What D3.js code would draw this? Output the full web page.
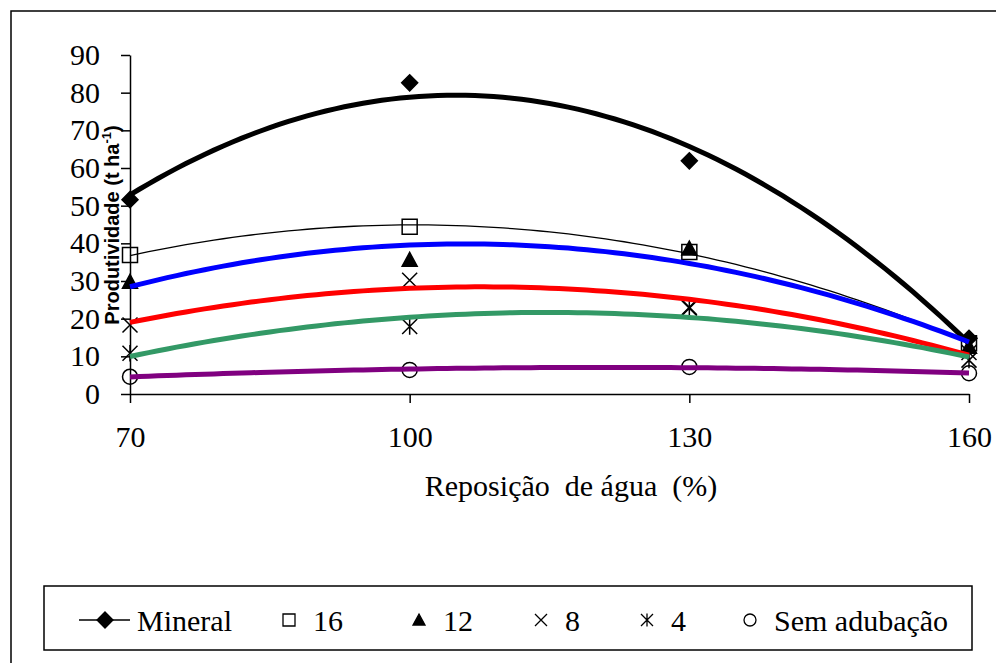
<!DOCTYPE html>
<html>
<head>
<meta charset="utf-8">
<script src="https://cdn.jsdelivr.net/npm/d3@7"></script>
</head>
<body style="margin:0">
<script>
// Data
const waterLevels = [70, 100, 130, 160];          // Reposição de água (%)
const seriesNames = ['Mineral', '16', '12', '8', '4', 'Sem adubação'];
const mineral     = [51.6, 82.6, 61.9, 14.8];
const dose16      = [36.9, 44.4, 37.7, 13.5];
const dose12      = [29.8, 35.6, 38.6, 12.5];
const dose8       = [18.3, 30.2, 23.0, 11.0];
const dose4       = [10.8, 17.9, 22.8, 9.0];
const semAdubacao = [4.6, 6.4, 7.2, 5.5];
const xTicks = [70, 100, 130, 160];
const yTicks = [0, 10, 20, 30, 40, 50, 60, 70, 80, 90];

// Styles
const lineColors = ['#000000', '#000000', '#0000ff', '#ff0000', '#339966', '#800080'];
const lineWidths = [5, 1.3, 5, 5, 5, 5];
const markerTypes = ['diamond', 'square', 'triangle', 'cross', 'star', 'circle'];

const width = 996;
const height = 663;

const svg = d3.select('body').append('svg')
    .attr('width', width)
    .attr('height', height);

// pick a Times-like family that really is installed (Times metrics: 'Mineral' = 3.166em)
function pickTimes() {
    const cands = ['"Times New Roman"', 'Tinos', '"Liberation Serif"', 'serif'];
    for (const f of cands) {
        const t = svg.append('text').style('font-family', f).style('font-size', '100px').text('Mineral');
        const w = t.node().getComputedTextLength();
        t.remove();
        if (Math.abs(w - 316.6) < 6) return f;
    }
    return '"Times New Roman"';
}
const timesFont = pickTimes();

const x = d3.scaleLinear().domain([70, 160]).range([130, 969]);
const y = d3.scaleLinear().domain([0, 90]).range([394, 55]);

// outer frame (right and bottom edges run off the picture)
svg.append('rect')
    .attr('x', 11).attr('y', 11)
    .attr('width', 1000).attr('height', 700)
    .attr('fill', 'none').attr('stroke', '#000').attr('stroke-width', 1.5);

// quadratic least squares trendline, as the spreadsheet does
function polyfit2(xs, ys) {
    const S = [0, 0, 0, 0, 0], T = [0, 0, 0];
    xs.forEach((xv, i) => {
        for (let k = 0; k < 5; k++) S[k] += Math.pow(xv, k);
        for (let k = 0; k < 3; k++) T[k] += Math.pow(xv, k) * ys[i];
    });
    const A = [[S[0], S[1], S[2], T[0]], [S[1], S[2], S[3], T[1]], [S[2], S[3], S[4], T[2]]];
    for (let c = 0; c < 3; c++) {
        for (let r = c + 1; r < 3; r++) {
            const f = A[r][c] / A[c][c];
            for (let k = c; k < 4; k++) A[r][k] -= f * A[c][k];
        }
    }
    const coef = [0, 0, 0];
    for (let r = 2; r >= 0; r--) {
        let s = A[r][3];
        for (let k = r + 1; k < 3; k++) s -= A[r][k] * coef[k];
        coef[r] = s / A[r][r];
    }
    return xv => coef[0] + coef[1] * xv + coef[2] * xv * xv;
}

// marker path generator
function markerPath(type, s) {
    const h = s / 2;
    switch (type) {
        case 'diamond': return `M0,${-h}L${h},0L0,${h}L${-h},0Z`;
        case 'square': return `M${-h},${-h}H${h}V${h}H${-h}Z`;
        case 'triangle': return `M0,${-h}L${h},${h * 0.85}H${-h}Z`;
        case 'cross': return `M${-h},${-h}L${h},${h}M${h},${-h}L${-h},${h}`;
        case 'star': return `M${-h},${-h}L${h},${h}M${h},${-h}L${-h},${h}M0,${-h * 1.1}V${h * 1.1}`;
        case 'circle': return `M${h},0A${h},${h},0,1,1,${-h},0A${h},${h},0,1,1,${h},0Z`;
    }
}
function markerFill(type) {
    return (type === 'diamond' || type === 'triangle') ? '#000' : 'none';
}

// axes
const yAxis = svg.append('g')
    .attr('transform', `translate(${x(70)},0)`)
    .call(d3.axisLeft(y).tickValues(yTicks).tickSize(9).tickSizeOuter(0).tickPadding(21));
const xAxis = svg.append('g')
    .attr('transform', `translate(0,${y(0)})`)
    .call(d3.axisBottom(x).tickValues(xTicks).tickSize(9).tickSizeOuter(0).tickPadding(23));
[yAxis, xAxis].forEach(g => {
    g.attr('font-family', null).attr('font-size', null);
    g.selectAll('path, line').attr('stroke', '#000').attr('stroke-width', 1.5);
    g.selectAll('text')
        .style('font-family', timesFont)
        .style('font-size', '30px')
        .attr('fill', '#000');
});

// series
const seriesData = [mineral, dose16, dose12, dose8, dose4, semAdubacao];
const curveX = d3.range(70, 160.5, 1);
const line = d3.line().x(d => x(d[0])).y(d => y(d[1]));

const markerG = svg.append('g');
const lineG = svg.append('g');

seriesData.forEach((vals, i) => {
    const fit = polyfit2(waterLevels, vals);
    lineG.append('path')
        .datum(curveX.map(xv => [xv, fit(xv)]))
        .attr('d', line)
        .attr('fill', 'none')
        .attr('stroke', lineColors[i])
        .attr('stroke-width', lineWidths[i]);

    markerG.selectAll(null)
        .data(vals)
        .enter().append('path')
        .attr('transform', (d, j) => `translate(${x(waterLevels[j])},${y(d)})`)
        .attr('d', markerPath(markerTypes[i], i === 0 ? 16 : 15))
        .attr('fill', markerFill(markerTypes[i]))
        .attr('stroke', '#000')
        .attr('stroke-width', 1.5);
});

// axis titles
svg.append('text')
    .attr('x', 571).attr('y', 496)
    .attr('text-anchor', 'middle')
    .style('font-family', timesFont)
    .style('font-size', '30px')
    .style('white-space', 'pre')
    .text('Reposição  de água  (%)');

const yTitle = svg.append('text')
    .attr('transform', 'translate(119,225) rotate(-90)')
    .attr('text-anchor', 'middle')
    .style('font-family', '"Liberation Sans", Arimo, Arial, sans-serif')
    .style('font-weight', 'bold')
    .style('font-size', '20px');
yTitle.append('tspan').text('Produtividade (t ha');
yTitle.append('tspan').style('font-size', '13px').attr('dy', -8).text('-1');
yTitle.append('tspan').attr('dy', 8).text(')');

// legend
const legendPos = [105, 289, 419, 541, 647, 750];
const legendG = svg.append('g');
legendG.append('rect')
    .attr('x', 44).attr('y', 586)
    .attr('width', 928).attr('height', 64)
    .attr('fill', 'none').attr('stroke', '#000').attr('stroke-width', 1.5);

seriesNames.forEach((name, i) => {
    const cx = legendPos[i];
    if (i === 0) {
        legendG.append('line')
            .attr('x1', cx - 26).attr('x2', cx + 25)
            .attr('y1', 620).attr('y2', 620)
            .attr('stroke', '#000').attr('stroke-width', 1.5);
    }
    legendG.append('path')
        .attr('transform', `translate(${cx},620)`)
        .attr('d', markerPath(markerTypes[i], i === 0 ? 16 : 12))
        .attr('fill', markerFill(markerTypes[i]))
        .attr('stroke', '#000')
        .attr('stroke-width', 1.3);
    legendG.append('text')
        .attr('x', cx + (i === 0 ? 32 : 24))
        .attr('y', 631)
        .style('font-family', timesFont)
        .style('font-size', '30px')
        .text(name);
});
</script>
</body>
</html>
